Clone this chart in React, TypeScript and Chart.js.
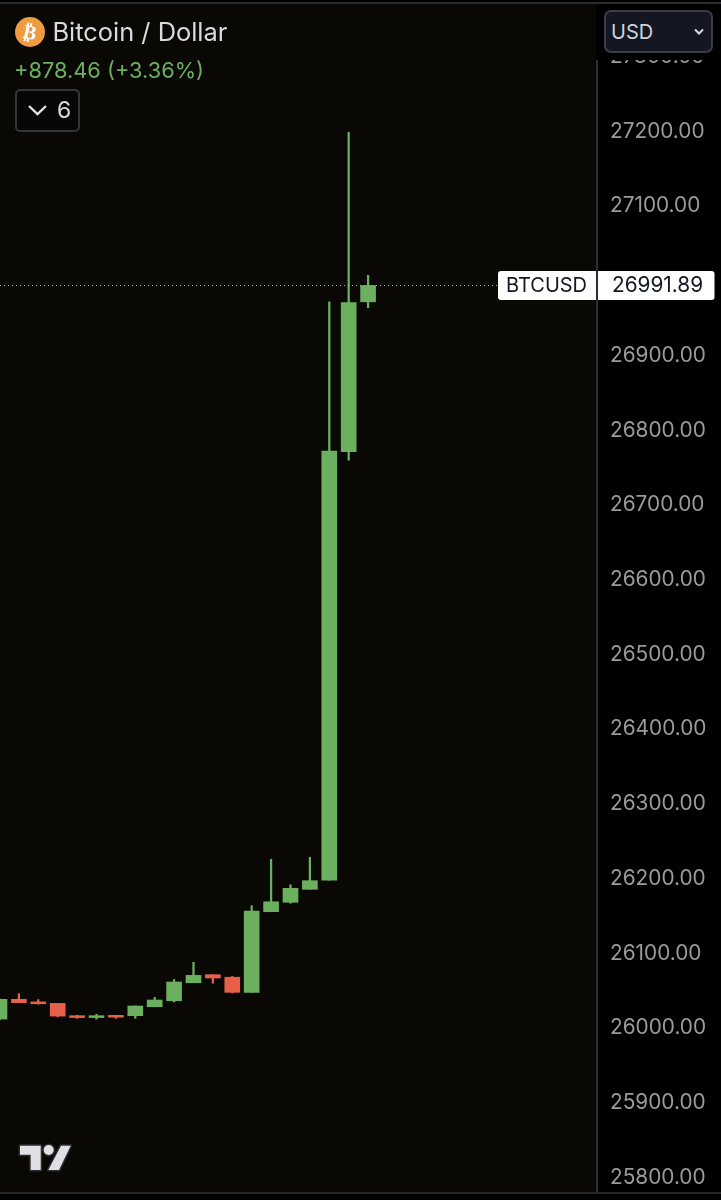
import React, { useEffect, useRef } from "react";
import { Chart, registerables } from "chart.js";

Chart.register(...registerables);

const positions = [0, 1, 2, 3, 4, 5, 6, 7, 8, 9, 10, 11, 12, 13, 14, 15, 16, 17, 18, 19];
const opens = [26010, 26036.4, 26033, 26031, 26014.5, 26012, 26015, 26014.5, 26026.5, 26034.5, 26058.6, 26069.4, 26066, 26045.8, 26153.7, 26166.3, 26183.7, 26196, 26769.4, 26970];
const closes = [26036.4, 26032, 26030.5, 26014, 26012, 26014.5, 26012.5, 26027.5, 26035.5, 26059.6, 26068.5, 26065, 26045.8, 26154.6, 26167, 26185, 26195.2, 26770.3, 26969, 26991.89];
const highs = [26037, 26044, 26036, 26031, 26015, 26016.5, 26015, 26027.5, 26039, 26063, 26086, 26069.4, 26067, 26161.8, 26223.8, 26189.8, 26226.5, 26970, 27197, 27005.5];
const lows = [26009, 26032, 26030, 26013, 26011, 26010, 26011, 26011, 26026.5, 26033, 26058.6, 26058, 26045, 26045.8, 26153.7, 26165, 26183.7, 26196, 26758, 26962];
const tickValues = [25800, 25900, 26000, 26100, 26200, 26300, 26400, 26500, 26600, 26700, 26800, 26900, 27000, 27100, 27200, 27300];
const hiddenTick = 27000;
const lastPrice = 26991.89;
const symbol = "BTCUSD";

const GREEN = "#6bb05e";
const RED = "#e9604a";
const colors = opens.map((o, i) => (closes[i] >= o ? GREEN : RED));

export default function App() {
  const ref = useRef<HTMLCanvasElement>(null);
  useEffect(() => {
    document.body.style.margin = "0";
    document.body.style.background = "#000";
    const priceTag = {
      id: "priceTag",
      beforeDraw(chart: any) {
        const { ctx, chartArea: a } = chart;
        ctx.save();
        ctx.fillStyle = "#000";
        ctx.fillRect(0, 0, chart.width, chart.height);
        ctx.fillStyle = "#0a0805";
        ctx.fillRect(a.left, a.top, a.right - a.left, a.bottom - a.top);
        ctx.restore();
      },
      afterDraw(chart: any) {
        const { ctx, scales, chartArea: a } = chart;
        const y = Math.round(scales.y.getPixelForValue(lastPrice));
        ctx.save();
        ctx.strokeStyle = "#b5b5ae";
        ctx.lineWidth = 1;
        ctx.setLineDash([1, 3]);
        ctx.beginPath();
        ctx.moveTo(a.left, y + 0.5);
        ctx.lineTo(498, y + 0.5);
        ctx.stroke();
        ctx.setLineDash([]);
        ctx.fillStyle = "#fff";
        ctx.beginPath();
        ctx.roundRect(498, y - 14, 216.5, 29, 3);
        ctx.fill();
        ctx.fillStyle = "#2a2e33";
        ctx.fillRect(a.right - 1, y - 14, 2, 29);
        ctx.fillStyle = "#131722";
        ctx.font = "20px Inter";
        ctx.textBaseline = "middle";
        ctx.textAlign = "left";
        ctx.fillText(symbol, 506, y + 1);
        ctx.font = "20.8px Inter";
        ctx.fillText(lastPrice.toFixed(2), a.right + 15, y + 1);
        ctx.restore();
      },
    };
    const chart = new Chart(ref.current!, {
      type: "bar",
      data: {
        datasets: [
          {
            label: "Wick",
            data: positions.map((x, i) => ({ x, y: [lows[i], highs[i]] })) as any,
            backgroundColor: colors,
            barThickness: 1.6,
            grouped: false,
            order: 2,
          },
          {
            label: "Body",
            data: positions.map((x, i) => ({ x, y: [opens[i], closes[i]] })) as any,
            backgroundColor: colors,
            barThickness: 15,
            grouped: false,
            order: 1,
          },
        ],
      },
      options: {
        animation: false,
        responsive: false,
        events: [],
        layout: { padding: { top: 4, bottom: 7, left: 0, right: 0 } },
        plugins: { legend: { display: false }, tooltip: { enabled: false } },
        scales: {
          x: { type: "linear", display: false, offset: false, min: 0.026, max: 30.8 },
          y: {
            position: "right",
            min: 25777.2,
            max: 27368.65,
            afterBuildTicks(s: any) {
              s.ticks = tickValues.map((value) => ({ value }));
            },
            afterFit(s: any) {
              s.width = 124;
              s.paddingTop = 0;
              s.paddingBottom = 0;
            },
            grid: { display: false, drawTicks: false },
            border: { display: true, color: "#2b2d33", width: 2 },
            ticks: {
              autoSkip: false,
              padding: 13,
              labelOffset: 1.5,
              color: "#9b9b9b",
              font: { family: "Inter", size: 20.8 },
              callback: (v: any) => (v === hiddenTick ? "" : Number(v).toFixed(2)),
            },
          },
        },
      },
      plugins: [priceTag],
    } as any);
    return () => chart.destroy();
  }, []);

  const font = "Inter, sans-serif";
  return (
    <div style={{ position: "relative", width: 721, height: 1200, overflow: "hidden", fontFamily: font }}>
      <canvas ref={ref} width={721} height={1200} style={{ position: "absolute", left: 0, top: 0, display: "block" }} />
      {/* frame lines */}
      <div style={{ position: "absolute", left: 0, top: 2, width: 721, height: 2, background: "#2a2b30" }} />
      <div style={{ position: "absolute", left: 0, top: 1192, width: 721, height: 2, background: "#25262a" }} />
      {/* axis cover under currency selector */}
      <div style={{ position: "absolute", left: 596, top: 4, width: 125, height: 56, background: "#000" }} />
      <div
        style={{
          position: "absolute", left: 604, top: 10, width: 109, height: 43, boxSizing: "border-box",
          background: "#141722", border: "2px solid #3a3d47", borderRadius: 7, color: "#cfd2d8",
          fontSize: 20, lineHeight: "40px", paddingLeft: 5,
        }}
      >
        USD
        <svg width="12" height="8" style={{ position: "absolute", right: 6, top: 16 }}>
          <path d="M2 1.5 L6 5.5 L10 1.5" fill="none" stroke="#d8dade" strokeWidth="2" />
        </svg>
      </div>
      {/* legend */}
      <svg width="32" height="32" style={{ position: "absolute", left: 14, top: 16 }}>
        <circle cx="16" cy="16" r="15" fill="#ef9b42" />
        <text x="16" y="23" textAnchor="middle" fontFamily="DejaVu Sans" fontWeight="bold" fontSize="20" fill="#fff" transform="rotate(12 16 16)">₿</text>
      </svg>
      <div style={{ position: "absolute", left: 52.5, top: 16, fontSize: 25.4, lineHeight: "32px", color: "#d9dbe0", whiteSpace: "nowrap" }}>
        Bitcoin / Dollar
      </div>
      <div style={{ position: "absolute", left: 14, top: 55, fontSize: 21.8, lineHeight: "30px", color: GREEN, whiteSpace: "nowrap" }}>
        +878.46 (+3.36%)
      </div>
      <div
        style={{
          position: "absolute", left: 15, top: 89, width: 65, height: 43, boxSizing: "border-box",
          border: "2px solid #33353b", borderRadius: 5, background: "#070707", color: "#d9dbe0",
          fontSize: 23, lineHeight: "39px",
        }}
      >
        <svg width="22" height="14" style={{ position: "absolute", left: 10, top: 13 }}>
          <path d="M2 2 L10.5 10 L19 2" fill="none" stroke="#e2e3e6" strokeWidth="2.4" />
        </svg>
        <span style={{ position: "absolute", left: 40 }}>6</span>
      </div>
      {/* logo */}
      <svg width="60" height="36" viewBox="0 0 60 36" style={{ position: "absolute", left: 15, top: 1140 }}>
        <g fill="#dfe0e4" stroke="#2b2c30" strokeWidth="3" paintOrder="stroke" strokeLinejoin="round">
          <path d="M5 5.7 H25.7 V30 H15.7 V14.7 H5 Z" />
          <circle cx="33.7" cy="10" r="5" />
          <path d="M46 5.7 H55.7 L44 30 H33.3 Z" />
        </g>
      </svg>
    </div>
  );
}
